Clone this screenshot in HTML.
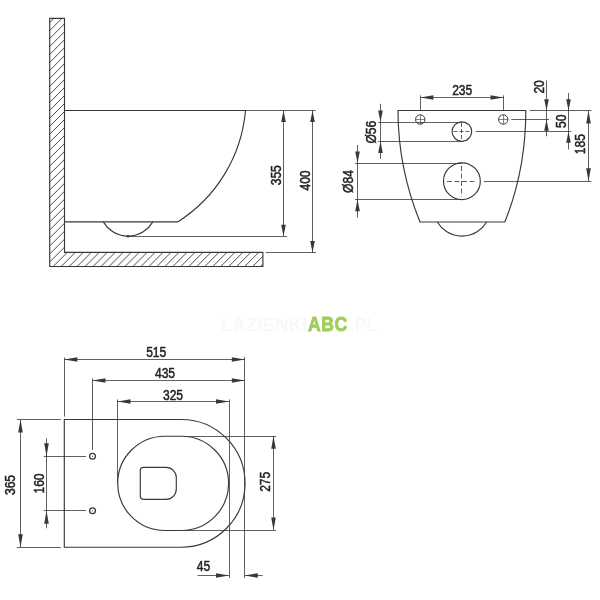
<!DOCTYPE html>
<html><head><meta charset="utf-8"><title>Rysunek techniczny</title>
<style>
html,body{margin:0;padding:0;background:#fff;}
body{width:600px;height:600px;overflow:hidden;position:relative;font-family:"Liberation Sans",sans-serif;}
svg{position:absolute;left:0;top:0;display:block;filter:grayscale(1);}
svg line,svg path,svg polygon,svg circle{stroke:#383838;}
.ar{fill:#383838;stroke:none !important;}
.t{font-family:"Liberation Sans",sans-serif;font-size:14.8px;fill:#222;stroke:#222;stroke-width:0.5px;}
.wm{position:absolute;left:0;top:313px;width:600px;height:24px;line-height:24px;font-size:19px;font-weight:bold;white-space:nowrap;}
.wm span{position:absolute;top:0;}
.wm .a{left:221px;color:#f8f8f8;transform:scaleX(0.985);transform-origin:0 50%;}
.wm .b{left:308.3px;top:-1px;letter-spacing:0.6px;color:#9fce5b;-webkit-text-stroke:0.9px #9fce5b;transform:scaleX(0.895);transform-origin:0 50%;font-size:19.6px;}
.wm .c{left:350px;color:#f8f8f8;transform:scaleX(0.92);transform-origin:0 50%;}
</style></head><body>
<svg width="600" height="600" viewBox="0 0 600 600">
<clipPath id="cw"><polygon points="49.7,18.3 64.5,18.3 64.5,252.3 262.9,252.3 262.9,266.5 49.7,266.5"/></clipPath>
<g clip-path="url(#cw)" stroke-width="0.9">
<line x1="-243.69" y1="300" x2="56.31" y2="0"/>
<line x1="-235.71" y1="300" x2="64.29" y2="0"/>
<line x1="-227.73" y1="300" x2="72.27" y2="0"/>
<line x1="-219.75" y1="300" x2="80.25" y2="0"/>
<line x1="-211.77" y1="300" x2="88.23" y2="0"/>
<line x1="-203.79" y1="300" x2="96.21" y2="0"/>
<line x1="-195.81" y1="300" x2="104.19" y2="0"/>
<line x1="-187.83" y1="300" x2="112.17" y2="0"/>
<line x1="-179.85" y1="300" x2="120.15" y2="0"/>
<line x1="-171.87" y1="300" x2="128.13" y2="0"/>
<line x1="-163.89" y1="300" x2="136.11" y2="0"/>
<line x1="-155.91" y1="300" x2="144.09" y2="0"/>
<line x1="-147.93" y1="300" x2="152.07" y2="0"/>
<line x1="-139.95" y1="300" x2="160.05" y2="0"/>
<line x1="-131.97" y1="300" x2="168.03" y2="0"/>
<line x1="-123.99" y1="300" x2="176.01" y2="0"/>
<line x1="-116.01" y1="300" x2="183.99" y2="0"/>
<line x1="-108.03" y1="300" x2="191.97" y2="0"/>
<line x1="-100.05" y1="300" x2="199.95" y2="0"/>
<line x1="-92.07" y1="300" x2="207.93" y2="0"/>
<line x1="-84.09" y1="300" x2="215.91" y2="0"/>
<line x1="-76.11" y1="300" x2="223.89" y2="0"/>
<line x1="-68.13" y1="300" x2="231.87" y2="0"/>
<line x1="-60.15" y1="300" x2="239.85" y2="0"/>
<line x1="-52.17" y1="300" x2="247.83" y2="0"/>
<line x1="-44.19" y1="300" x2="255.81" y2="0"/>
<line x1="-36.21" y1="300" x2="263.79" y2="0"/>
<line x1="-28.23" y1="300" x2="271.77" y2="0"/>
<line x1="-20.25" y1="300" x2="279.75" y2="0"/>
<line x1="-12.27" y1="300" x2="287.73" y2="0"/>
<line x1="-4.29" y1="300" x2="295.71" y2="0"/>
<line x1="3.69" y1="300" x2="303.69" y2="0"/>
<line x1="11.67" y1="300" x2="311.67" y2="0"/>
<line x1="19.65" y1="300" x2="319.65" y2="0"/>
<line x1="27.63" y1="300" x2="327.63" y2="0"/>
<line x1="35.61" y1="300" x2="335.61" y2="0"/>
<line x1="43.59" y1="300" x2="343.59" y2="0"/>
<line x1="51.57" y1="300" x2="351.57" y2="0"/>
<line x1="59.55" y1="300" x2="359.55" y2="0"/>
<line x1="67.53" y1="300" x2="367.53" y2="0"/>
<line x1="75.51" y1="300" x2="375.51" y2="0"/>
<line x1="83.49" y1="300" x2="383.49" y2="0"/>
<line x1="91.47" y1="300" x2="391.47" y2="0"/>
<line x1="99.45" y1="300" x2="399.45" y2="0"/>
<line x1="107.43" y1="300" x2="407.43" y2="0"/>
<line x1="115.41" y1="300" x2="415.41" y2="0"/>
<line x1="123.39" y1="300" x2="423.39" y2="0"/>
<line x1="131.37" y1="300" x2="431.37" y2="0"/>
<line x1="139.35" y1="300" x2="439.35" y2="0"/>
<line x1="147.33" y1="300" x2="447.33" y2="0"/>
<line x1="155.31" y1="300" x2="455.31" y2="0"/>
<line x1="163.29" y1="300" x2="463.29" y2="0"/>
<line x1="171.27" y1="300" x2="471.27" y2="0"/>
<line x1="179.25" y1="300" x2="479.25" y2="0"/>
<line x1="187.23" y1="300" x2="487.23" y2="0"/>
<line x1="195.21" y1="300" x2="495.21" y2="0"/>
<line x1="203.19" y1="300" x2="503.19" y2="0"/>
<line x1="211.17" y1="300" x2="511.17" y2="0"/>
<line x1="219.15" y1="300" x2="519.15" y2="0"/>
<line x1="227.13" y1="300" x2="527.13" y2="0"/>
<line x1="235.11" y1="300" x2="535.11" y2="0"/>
<line x1="243.09" y1="300" x2="543.09" y2="0"/>
<line x1="251.07" y1="300" x2="551.07" y2="0"/>
<line x1="259.05" y1="300" x2="559.05" y2="0"/>
</g>
<polygon points="49.7,18.3 64.5,18.3 64.5,252.3 262.9,252.3 262.9,266.5 49.7,266.5" fill="none" stroke-width="1.15"/>
<path d="M64.5 110.5 H245.5 A147 147 0 0 1 177.7 221.9 H64.5" fill="none" stroke-width="1.15"/>
<path d="M103.3 221.9 A28.7 28.7 0 0 0 152.8 221.9" fill="none" stroke-width="1.15"/>
<circle cx="128" cy="236.2" r="1.3" class="ar"/>
<line x1="245.5" y1="110.5" x2="315.5" y2="110.5" stroke-width="0.8" />
<line x1="128" y1="236.5" x2="287" y2="236.5" stroke-width="0.8" />
<line x1="265.7" y1="252.5" x2="316" y2="252.5" stroke-width="0.8" />
<line x1="283.5" y1="110.5" x2="283.5" y2="236.2" stroke-width="0.8" />
<line x1="312.5" y1="110.5" x2="312.5" y2="252.5" stroke-width="0.8" />
<polygon class="ar" points="283.50,110.50 281.20,122.00 285.80,122.00"/>
<polygon class="ar" points="283.50,236.20 281.20,224.70 285.80,224.70"/>
<polygon class="ar" points="312.50,110.50 310.20,122.00 314.80,122.00"/>
<polygon class="ar" points="312.50,252.50 310.20,241.00 314.80,241.00"/>
<text class="t" transform="translate(281 175.25) rotate(-90) scale(0.815 1)" text-anchor="middle">355</text>
<text class="t" transform="translate(310 180.5) rotate(-90) scale(0.815 1)" text-anchor="middle">400</text>
<path d="M420 222 C405 185 398 150 398 110.5 H525.8 C525.8 150 519.8 185 504.8 222 Z" fill="none" stroke-width="1.15"/>
<path d="M437.3 222 A28.7 28.7 0 0 0 486.7 222" fill="none" stroke-width="1.15"/>
<circle cx="420.25" cy="119.5" r="4.7" fill="none" stroke-width="1"/>
<line x1="415.55" y1="119.5" x2="424.95" y2="119.5" stroke-width="0.6" />
<line x1="420.5" y1="114.8" x2="420.5" y2="124.2" stroke-width="0.6" />
<circle cx="503.25" cy="119.5" r="4.7" fill="none" stroke-width="1"/>
<line x1="498.55" y1="119.5" x2="507.95" y2="119.5" stroke-width="0.6" />
<line x1="503.5" y1="114.8" x2="503.5" y2="124.2" stroke-width="0.6" />
<circle cx="461.9" cy="131.6" r="9.8" fill="none" stroke-width="1.15"/>
<circle cx="461.9" cy="181.2" r="18.4" fill="none" stroke-width="1.15"/>
<line x1="453.5" y1="131.5" x2="470.5" y2="131.5" stroke-width="0.8" stroke-dasharray="4 2"/>
<line x1="461.5" y1="123" x2="461.5" y2="140.5" stroke-width="0.8" stroke-dasharray="4 2"/>
<line x1="447" y1="181.5" x2="477" y2="181.5" stroke-width="0.8" stroke-dasharray="5 2.5"/>
<line x1="461.5" y1="166" x2="461.5" y2="196.5" stroke-width="0.8" stroke-dasharray="5 2.5"/>
<line x1="420.5" y1="95.3" x2="420.5" y2="110" stroke-width="0.8" />
<line x1="503.5" y1="95.3" x2="503.5" y2="110" stroke-width="0.8" />
<line x1="420.4" y1="97.5" x2="503.5" y2="97.5" stroke-width="0.8" />
<polygon class="ar" points="420.40,97.50 433.40,95.20 433.40,99.80"/>
<polygon class="ar" points="503.50,97.50 490.50,95.20 490.50,99.80"/>
<text class="t" transform="translate(462.2 94.8) scale(0.815 1)" text-anchor="middle">235</text>
<line x1="378" y1="122.5" x2="461.9" y2="122.5" stroke-width="0.8" />
<line x1="378" y1="141.5" x2="461.9" y2="141.5" stroke-width="0.8" />
<line x1="380.5" y1="103.8" x2="380.5" y2="158.8" stroke-width="0.8" />
<polygon class="ar" points="380.50,122.00 378.20,110.40 382.80,110.40"/>
<polygon class="ar" points="380.50,141.30 378.20,152.90 382.80,152.90"/>
<text class="t" transform="translate(376 132.2) rotate(-90) scale(0.815 1)" text-anchor="middle">Ø56</text>
<line x1="355" y1="163.5" x2="461.9" y2="163.5" stroke-width="0.8" />
<line x1="355" y1="199.5" x2="461.9" y2="199.5" stroke-width="0.8" />
<line x1="357.5" y1="145" x2="357.5" y2="217.5" stroke-width="0.8" />
<polygon class="ar" points="357.50,163.00 355.20,151.40 359.80,151.40"/>
<polygon class="ar" points="357.50,199.60 355.20,211.20 359.80,211.20"/>
<text class="t" transform="translate(352.7 181.5) rotate(-90) scale(0.815 1)" text-anchor="middle">Ø84</text>
<line x1="529.5" y1="110.5" x2="591.3" y2="110.5" stroke-width="0.8" />
<line x1="511.3" y1="119.5" x2="549" y2="119.5" stroke-width="0.8" />
<line x1="475.8" y1="131.5" x2="571.3" y2="131.5" stroke-width="0.8" />
<line x1="483.8" y1="181.5" x2="591.3" y2="181.5" stroke-width="0.8" />
<line x1="546.5" y1="80.5" x2="546.5" y2="136.3" stroke-width="0.8" />
<polygon class="ar" points="546.50,110.50 544.20,99.30 548.80,99.30"/>
<polygon class="ar" points="546.50,119.50 544.20,130.70 548.80,130.70"/>
<line x1="568.5" y1="93" x2="568.5" y2="149.5" stroke-width="0.8" />
<polygon class="ar" points="568.50,110.50 566.20,99.30 570.80,99.30"/>
<polygon class="ar" points="568.50,131.60 566.20,142.80 570.80,142.80"/>
<line x1="588.5" y1="110.5" x2="588.5" y2="181.2" stroke-width="0.8" />
<polygon class="ar" points="588.50,110.50 586.20,123.50 590.80,123.50"/>
<polygon class="ar" points="588.50,181.20 586.20,168.20 590.80,168.20"/>
<text class="t" transform="translate(544.25 86.9) rotate(-90) scale(0.815 1)" text-anchor="middle">20</text>
<text class="t" transform="translate(565.5 121.25) rotate(-90) scale(0.815 1)" text-anchor="middle">50</text>
<text class="t" transform="translate(584.7 144.2) rotate(-90) scale(0.815 1)" text-anchor="middle">185</text>
<path d="M181.2 419.5 H64.3 V547.2 H181.2 A63.85 63.85 0 0 0 181.2 419.5 Z" fill="none" stroke-width="1.15"/>
<path d="M164.8 436.2 H181.5 A47.15 47.15 0 0 1 181.5 530.5 H164.8 A47.15 47.15 0 0 1 164.8 436.2 Z" fill="none" stroke-width="1.15"/>
<path d="M143.3 467.3 H166 A10.3 10.3 0 0 1 176.3 477.6 V489 A10.3 10.3 0 0 1 166 499.3 H143.3 A3 3 0 0 1 140.3 496.3 V470.3 A3 3 0 0 1 143.3 467.3 Z" fill="none" stroke-width="1.15"/>
<circle cx="92.5" cy="456.25" r="2.9" fill="none" stroke-width="1.3"/>
<circle cx="92.5" cy="456.25" r="0.6" class="ar"/>
<circle cx="92.5" cy="510.75" r="2.9" fill="none" stroke-width="1.3"/>
<circle cx="92.5" cy="510.75" r="0.6" class="ar"/>
<line x1="64.5" y1="357.5" x2="64.5" y2="416.6" stroke-width="0.8" />
<line x1="92.5" y1="378.3" x2="92.5" y2="450" stroke-width="0.8" />
<line x1="117.5" y1="399.5" x2="117.5" y2="483" stroke-width="0.8" />
<line x1="244.5" y1="357" x2="244.5" y2="578" stroke-width="0.8" />
<line x1="229.5" y1="399.5" x2="229.5" y2="578" stroke-width="0.8" />
<line x1="64.3" y1="359.5" x2="244.8" y2="359.5" stroke-width="0.8" />
<polygon class="ar" points="64.30,359.50 77.30,357.20 77.30,361.80"/>
<polygon class="ar" points="244.80,359.50 231.80,357.20 231.80,361.80"/>
<line x1="92.5" y1="380.5" x2="244.8" y2="380.5" stroke-width="0.8" />
<polygon class="ar" points="92.50,380.50 105.50,378.20 105.50,382.80"/>
<polygon class="ar" points="244.80,380.50 231.80,378.20 231.80,382.80"/>
<line x1="117.5" y1="401.5" x2="229" y2="401.5" stroke-width="0.8" />
<polygon class="ar" points="117.50,401.50 130.50,399.20 130.50,403.80"/>
<polygon class="ar" points="229.00,401.50 216.00,399.20 216.00,403.80"/>
<text class="t" transform="translate(156.2 356.9) scale(0.815 1)" text-anchor="middle">515</text>
<text class="t" transform="translate(165 377.9) scale(0.815 1)" text-anchor="middle">435</text>
<text class="t" transform="translate(173 399.5) scale(0.815 1)" text-anchor="middle">325</text>
<line x1="17" y1="419.5" x2="60.8" y2="419.5" stroke-width="0.8" />
<line x1="17" y1="547.5" x2="60.8" y2="547.5" stroke-width="0.8" />
<line x1="20.5" y1="419.5" x2="20.5" y2="547.2" stroke-width="0.8" />
<polygon class="ar" points="20.50,419.50 18.20,432.50 22.80,432.50"/>
<polygon class="ar" points="20.50,547.20 18.20,534.20 22.80,534.20"/>
<line x1="43.8" y1="456.5" x2="86" y2="456.5" stroke-width="0.8" />
<line x1="43.8" y1="510.5" x2="86" y2="510.5" stroke-width="0.8" />
<line x1="46.5" y1="438.3" x2="46.5" y2="528.3" stroke-width="0.8" />
<polygon class="ar" points="46.50,456.25 44.20,443.25 48.80,443.25"/>
<polygon class="ar" points="46.50,510.75 44.20,523.75 48.80,523.75"/>
<text class="t" transform="translate(15.4 485) rotate(-90) scale(0.815 1)" text-anchor="middle">365</text>
<text class="t" transform="translate(43.6 483.5) rotate(-90) scale(0.815 1)" text-anchor="middle">160</text>
<line x1="185" y1="436.5" x2="276" y2="436.5" stroke-width="0.8" />
<line x1="185" y1="530.5" x2="276" y2="530.5" stroke-width="0.8" />
<line x1="273.5" y1="436" x2="273.5" y2="530.2" stroke-width="0.8" />
<polygon class="ar" points="273.50,436.00 271.20,448.80 275.80,448.80"/>
<polygon class="ar" points="273.50,530.20 271.20,517.40 275.80,517.40"/>
<text class="t" transform="translate(270.3 481.8) rotate(-90) scale(0.815 1)" text-anchor="middle">275</text>
<line x1="197.6" y1="575.5" x2="229" y2="575.5" stroke-width="0.8" />
<line x1="244.8" y1="575.5" x2="262.6" y2="575.5" stroke-width="0.8" />
<polygon class="ar" points="229.00,575.50 216.00,573.20 216.00,577.80"/>
<polygon class="ar" points="244.80,575.50 257.80,573.20 257.80,577.80"/>
<text class="t" transform="translate(203.5 571) scale(0.815 1)" text-anchor="middle">45</text>
</svg>
<div class="wm"><span class="a">ŁAZIENKI</span><span class="b">ABC</span><span class="c">.PL</span></div>
</body></html>
